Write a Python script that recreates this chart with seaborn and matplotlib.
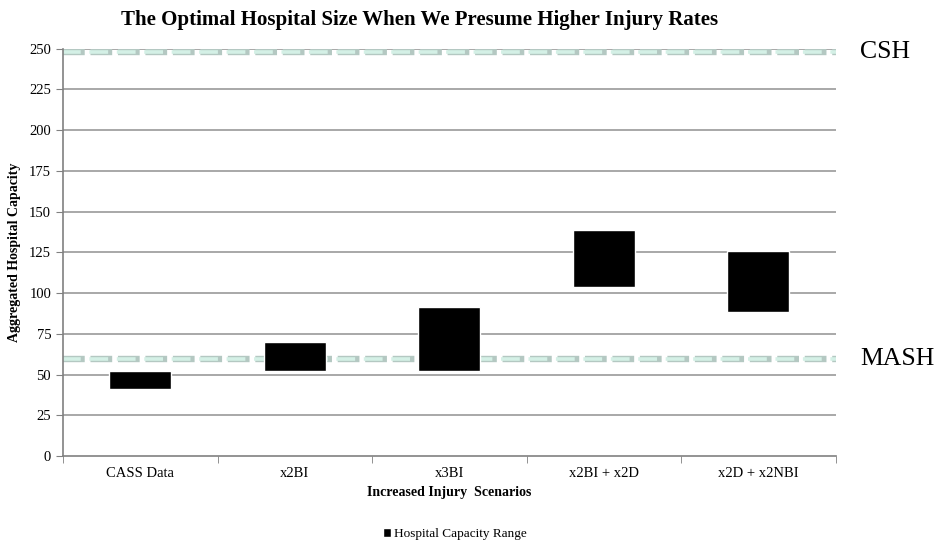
import numpy as np
import pandas as pd
import matplotlib.pyplot as plt
import seaborn as sns

# data
scenarios = ['CASS Data', 'x2BI', 'x3BI', 'x2BI + x2D', 'x2D + x2NBI']
cap_low = [41, 52, 52, 104, 88.5]
cap_high = [52, 70, 91.5, 138.5, 126]
csh_level = 248
mash_level = 59.5

df = pd.DataFrame({'scenario': scenarios, 'low': cap_low, 'high': cap_high})
df['span'] = df['high'] - df['low']

sns.set_style('white', {'text.color': 'black', 'axes.labelcolor': 'black',
                        'xtick.color': 'black', 'ytick.color': 'black'})
plt.rcParams['font.family'] = ['Liberation Serif', 'DejaVu Serif']

fig, ax = plt.subplots(figsize=(9.4, 5.41), dpi=100)
fig.subplots_adjust(left=0.067, right=0.889, top=0.91, bottom=0.157)

# horizontal grid
for v in range(25, 251, 25):
    ax.axhline(v, color='#9a9a9a', lw=1.2, zorder=0)

# reference lines (CSH / MASH)
for lvl, name in [(csh_level, 'CSH'), (mash_level, 'MASH')]:
    ax.axhline(lvl, color='#b4c8c2', lw=4.6, ls=(0, (3.4, 0.9)), zorder=1)
    ax.axhline(lvl, color='#d4f0e6', lw=2.6, ls=(0.3, (5.2, 2.4)), zorder=1.5)
    ax.text(1.032, lvl, name, transform=ax.get_yaxis_transform(), fontsize=18.5,
            va='center', ha='left', color='black')

sns.barplot(data=df, x='scenario', y='span', bottom=df['low'], color='black',
            width=0.4, saturation=1, ax=ax, zorder=3, label='Hospital Capacity Range')

ax.set_xlim(-0.5, 4.5)
ax.set_ylim(0, 250)
ax.set_yticks(range(0, 251, 25))
ax.tick_params(axis='y', labelsize=10.5, length=5, color='#808080', labelcolor='black',
               direction='out', left=True)
ax.tick_params(axis='x', labelsize=10.5, length=0, pad=8, labelcolor='black')
ax.set_xticks(np.arange(-0.5, 4.6, 1), minor=True)
ax.tick_params(axis='x', which='minor', length=5, color='#808080', direction='out', bottom=True)

for s in ['top', 'right']:
    ax.spines[s].set_visible(False)
for s in ['left', 'bottom']:
    ax.spines[s].set_color('#808080')
    ax.spines[s].set_linewidth(1.2)

ax.set_xlabel('Increased Injury  Scenarios', fontsize=10, fontweight='bold', labelpad=4)
ax.set_ylabel('Aggregated Hospital Capacity', fontsize=10, fontweight='bold', labelpad=6)
fig.text(420 / 940, 1 - 20 / 541, 'The Optimal Hospital Size When We Presume Higher Injury Rates',
         fontsize=15, fontweight='bold', ha='center', va='center', color='black')

ax.legend(loc='center', bbox_to_anchor=(455 / 940, 7 / 541), bbox_transform=fig.transFigure,
          frameon=False, fontsize=9.5, handlelength=0.6, handleheight=0.6, handletextpad=0.2)

fig.savefig('out.png', dpi=100)
